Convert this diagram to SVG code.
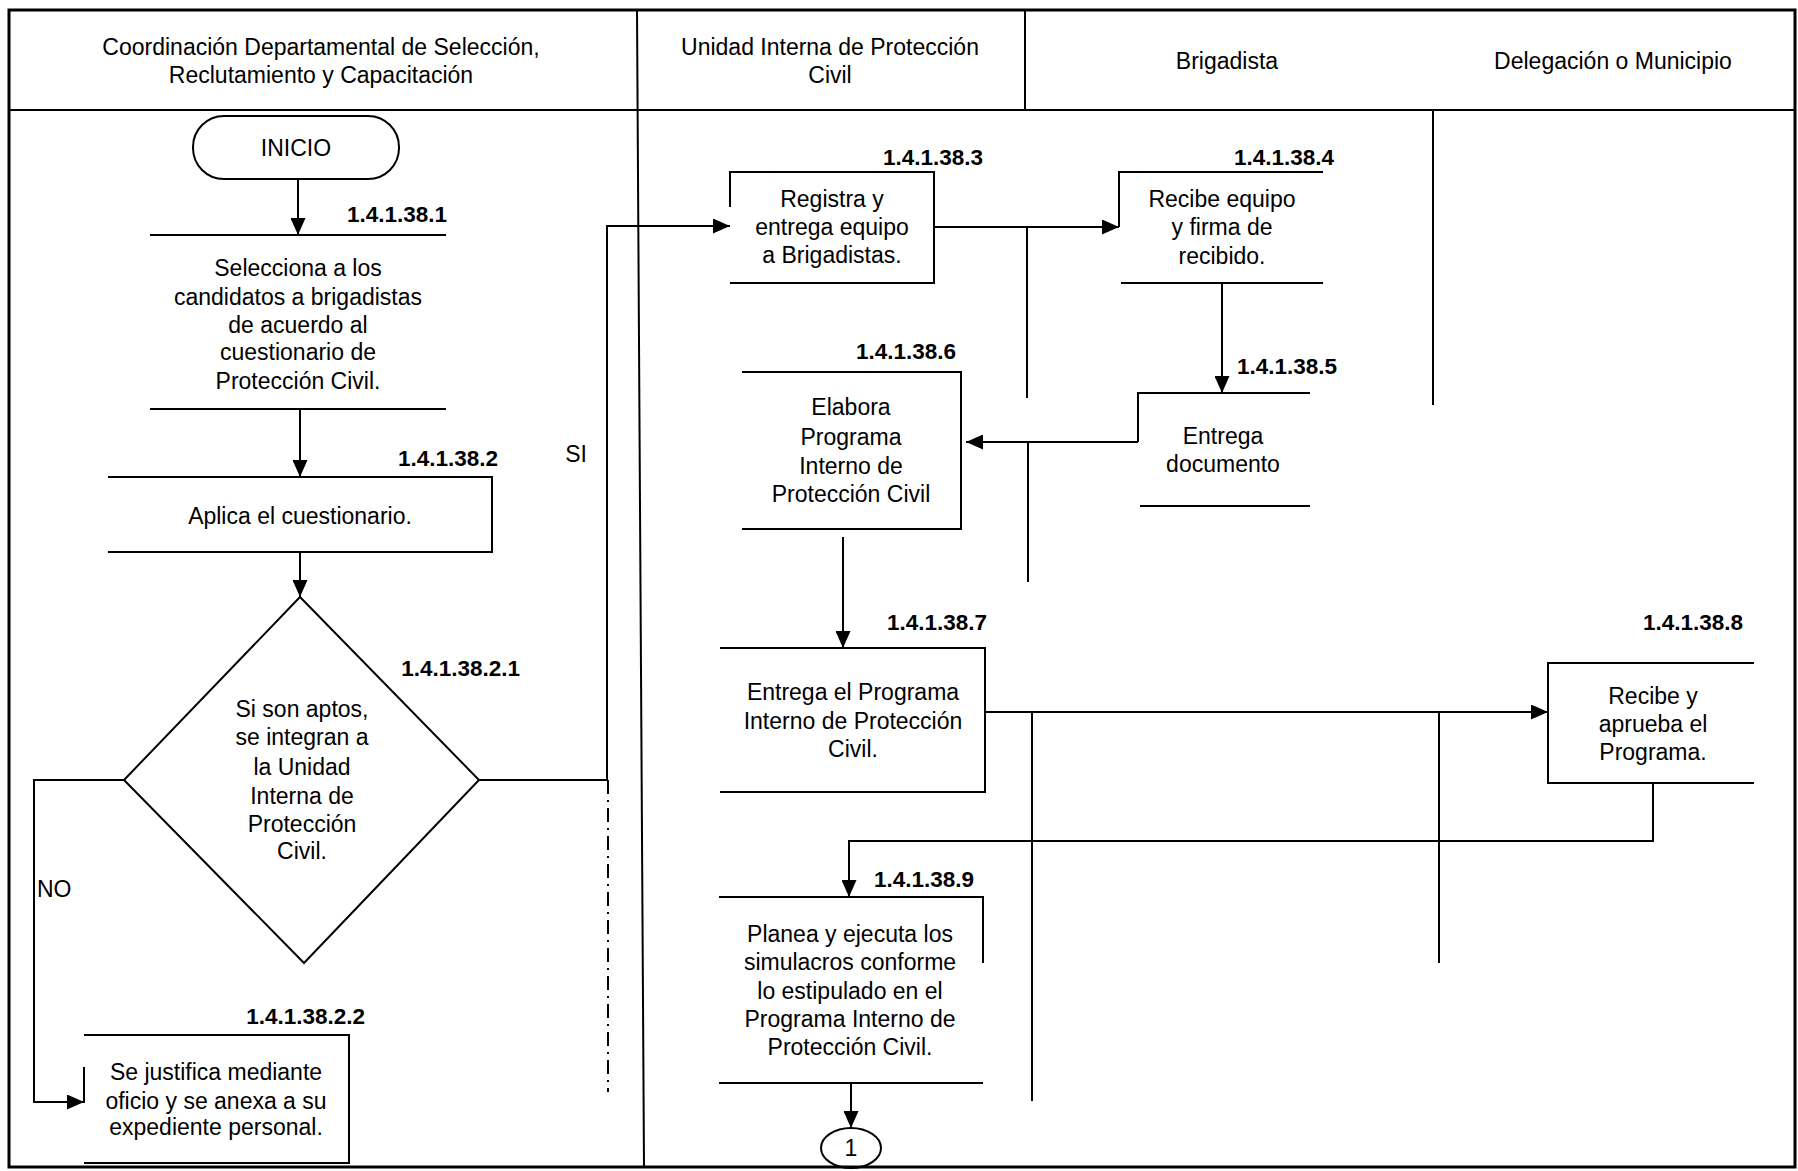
<svg xmlns="http://www.w3.org/2000/svg" width="1798" height="1171" viewBox="0 0 1798 1171">
<style>
text{font-family:"Liberation Sans",Arial,sans-serif;font-size:23px;fill:#000;text-anchor:middle}
.lbl{font-weight:bold;font-size:22.5px;text-anchor:end}
.st{text-anchor:start}
.ln{fill:none;stroke:#000;stroke-width:2}
.fr{fill:none;stroke:#000;stroke-width:3}
.cn{fill:none;stroke:#000;stroke-width:2}
</style>
<defs>
<marker id="a" viewBox="0 0 17 15" refX="17" refY="7.5" markerWidth="17" markerHeight="15" markerUnits="userSpaceOnUse" orient="auto">
<path d="M0,0 L17,7.5 L0,15 z" fill="#000"/>
</marker>
</defs>
<rect width="1798" height="1171" fill="#fff"/>
<g id="frame">
<rect x="9" y="10" width="1786" height="1157" class="fr" stroke-width="4"/>
<line x1="9" y1="110" x2="1795" y2="110" class="ln"/>
<line x1="637" y1="10" x2="644" y2="1167" class="ln"/>
<line x1="1025" y1="10" x2="1025" y2="110" class="ln"/>
<line x1="1027" y1="226" x2="1027" y2="398" class="ln"/>
<line x1="1028" y1="442" x2="1028" y2="582" class="ln"/>
<line x1="1433" y1="111" x2="1433" y2="405" class="ln" stroke-width="3"/>
<line x1="1032" y1="713" x2="1032" y2="1101" class="ln" stroke-width="3"/>
<line x1="1439" y1="712" x2="1439" y2="963" class="ln"/>
<text x="321" y="55">Coordinación Departamental de Selección,</text>
<text x="321" y="83">Reclutamiento y Capacitación</text>
<text x="830" y="55">Unidad Interna de Protección</text>
<text x="830" y="83">Civil</text>
<text x="1227" y="69">Brigadista</text>
<text x="1613" y="69">Delegación o Municipio</text>
</g>
<g id="connectors">
<line x1="298" y1="179" x2="298" y2="235" class="cn" marker-end="url(#a)"/>
<line x1="300" y1="409" x2="300" y2="477" class="cn" marker-end="url(#a)"/>
<line x1="300" y1="552" x2="300" y2="597" class="cn" marker-end="url(#a)"/>
<polyline points="124,780 34,780 34,1102 84,1102" class="cn" marker-end="url(#a)"/>
<polyline points="479,780 607,780 607,226 730,226" class="cn" marker-end="url(#a)"/>
<line x1="608" y1="780" x2="608" y2="1092" class="cn" stroke-dasharray="14,6,2,6"/>
<line x1="934" y1="227" x2="1119" y2="227" class="cn" marker-end="url(#a)"/>
<line x1="1222" y1="283" x2="1222" y2="393" class="cn" marker-end="url(#a)"/>
<line x1="1138" y1="442" x2="966" y2="442" class="cn" marker-end="url(#a)"/>
<line x1="843" y1="537" x2="843" y2="648" class="cn" marker-end="url(#a)"/>
<line x1="985" y1="712" x2="1548" y2="712" class="cn" marker-end="url(#a)"/>
<polyline points="1653,783 1653,841 849,841 849,897" class="cn" marker-end="url(#a)"/>
<line x1="851" y1="1083" x2="851" y2="1128" class="cn" marker-end="url(#a)"/>
<text x="576" y="462">SI</text>
<text x="37" y="897" class="st">NO</text>
</g>
<g id="inicio">
<rect x="193" y="116" width="206" height="63" rx="31" class="ln"/>
<text x="296" y="156">INICIO</text>
</g>
<g id="n1">
<path d="M150,235 H446 M150,409 H446" class="ln"/>
<text x="447" y="222" class="lbl">1.4.1.38.1</text>
<text x="298" y="276">Selecciona a los</text>
<text x="298" y="305">candidatos a brigadistas</text>
<text x="298" y="333">de acuerdo al</text>
<text x="298" y="360">cuestionario de</text>
<text x="298" y="389">Protección Civil.</text>
</g>
<g id="n2">
<path d="M108,477 H492 V552 H108" class="ln"/>
<text x="498" y="466" class="lbl">1.4.1.38.2</text>
<text x="300" y="524">Aplica el cuestionario.</text>
</g>
<g id="n21">
<polygon points="300,597 479,780 304,963 124,780" class="ln"/>
<text x="520" y="676" class="lbl">1.4.1.38.2.1</text>
<text x="302" y="717">Si son aptos,</text>
<text x="302" y="745">se integran a</text>
<text x="302" y="775">la Unidad</text>
<text x="302" y="804">Interna de</text>
<text x="302" y="832">Protección</text>
<text x="302" y="859">Civil.</text>
</g>
<g id="n22">
<path d="M84,1067 V1103 M84,1035 H349 V1163 H84" class="ln"/>
<text x="365" y="1024" class="lbl">1.4.1.38.2.2</text>
<text x="216" y="1080">Se justifica mediante</text>
<text x="216" y="1109">oficio y se anexa a su</text>
<text x="216" y="1135">expediente personal.</text>
</g>
<g id="n3">
<path d="M730,207 V172 H934 V283 H730" class="ln"/>
<text x="983" y="165" class="lbl">1.4.1.38.3</text>
<text x="832" y="207">Registra y</text>
<text x="832" y="235">entrega equipo</text>
<text x="832" y="263">a Brigadistas.</text>
</g>
<g id="n4">
<path d="M1119,227 V172 H1323 M1121,283 H1323" class="ln"/>
<text x="1334" y="165" class="lbl">1.4.1.38.4</text>
<text x="1222" y="207">Recibe equipo</text>
<text x="1222" y="235">y firma de</text>
<text x="1222" y="264">recibido.</text>
</g>
<g id="n5">
<path d="M1138,442 V393 H1310 M1140,506 H1310" class="ln"/>
<text x="1337" y="374" class="lbl">1.4.1.38.5</text>
<text x="1223" y="444">Entrega</text>
<text x="1223" y="472">documento</text>
</g>
<g id="n6">
<path d="M742,372 H961 V529 H742" class="ln"/>
<text x="956" y="359" class="lbl">1.4.1.38.6</text>
<text x="851" y="415">Elabora</text>
<text x="851" y="445">Programa</text>
<text x="851" y="474">Interno de</text>
<text x="851" y="502">Protección Civil</text>
</g>
<g id="n7">
<path d="M720,648 H985 V792 H720" class="ln"/>
<text x="987" y="630" class="lbl">1.4.1.38.7</text>
<text x="853" y="700">Entrega el Programa</text>
<text x="853" y="729">Interno de Protección</text>
<text x="853" y="757">Civil.</text>
</g>
<g id="n8">
<path d="M1754,663 H1548 V783 H1754" class="ln"/>
<text x="1743" y="630" class="lbl">1.4.1.38.8</text>
<text x="1653" y="704">Recibe y</text>
<text x="1653" y="732">aprueba el</text>
<text x="1653" y="760">Programa.</text>
</g>
<g id="n9">
<path d="M719,897 H983 V963 M719,1083 H983" class="ln"/>
<text x="974" y="887" class="lbl">1.4.1.38.9</text>
<text x="850" y="942">Planea y ejecuta los</text>
<text x="850" y="970">simulacros conforme</text>
<text x="850" y="999">lo estipulado en el</text>
<text x="850" y="1027">Programa Interno de</text>
<text x="850" y="1055">Protección Civil.</text>
</g>
<g id="c1">
<ellipse cx="851" cy="1148" rx="30" ry="20" class="ln"/>
<text x="851" y="1156">1</text>
</g>
</svg>
